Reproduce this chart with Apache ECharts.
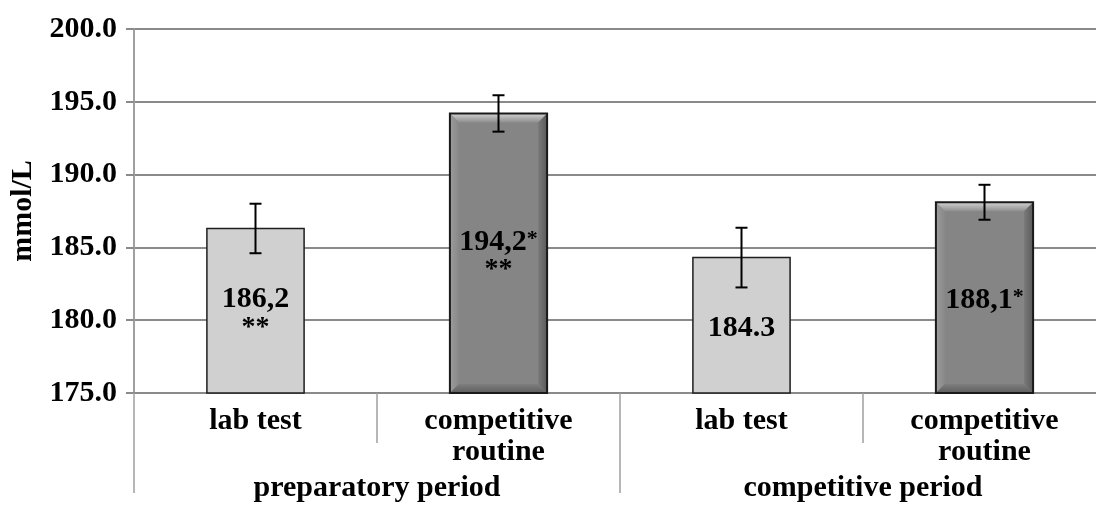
<!DOCTYPE html>
<html>
<head>
<meta charset="utf-8">
<script src="https://cdn.jsdelivr.net/npm/echarts@6/dist/echarts.min.js"></script>
<style>
html,body{margin:0;padding:0;background:#fff;}
#chart{width:1096px;height:505px;}
</style>
</head>
<body>
<div id="chart"></div>
<script>
// ---- data ----
const categories = ['lab test', 'competitive\nroutine', 'lab test', 'competitive\nroutine'];
const periods = ['preparatory period', 'competitive period'];
const means = [186.3, 194.2, 184.3, 188.1];
const errors = [1.7, 1.25, 2.05, 1.2];
const valueLabels = ['186,2\n{s|**}', '194,2{t|*}\n{s|**}', '184.3', '188,1{t|*}'];
const yTicks = { min: 175, max: 200, interval: 5 };
const yName = 'mmol/L';

const FONT = '"Liberation Serif", "Times New Roman", serif';
const GRAY = '#8a8a8a';

const chart = echarts.init(document.getElementById('chart'), null, { renderer: 'canvas' });

function renderBar(params, api) {
  const i = api.value(0);
  const v = api.value(1);
  const top = api.coord([i, v]);
  const base = api.coord([i, yTicks.min]);
  const bw = api.size([1, 0])[0] * 0.4;
  const x = top[0] - bw / 2, y = top[1], w = bw, h = base[1] - top[1];
  const dark = i % 2 === 1;
  const children = [];
  if (!dark) {
    children.push({ type: 'rect', shape: { x, y, width: w, height: h },
      style: { fill: '#d0d0d0', stroke: '#1e1e1e', lineWidth: 1.5 } });
  } else {
    const b = 9;
    children.push({ type: 'rect', shape: { x, y, width: w, height: h },
      style: { fill: '#858585' } });
    children.push({ type: 'polygon', shape: { points: [[x, y], [x + w, y], [x + w - b, y + b], [x + b, y + b]] },
      style: { fill: new echarts.graphic.LinearGradient(0, 0, 0, 1, [
        { offset: 0, color: '#d2d2d2' }, { offset: 1, color: '#8e8e8e' }]) } });
    children.push({ type: 'polygon', shape: { points: [[x, y], [x + b, y + b], [x + b, y + h - b], [x, y + h]] },
      style: { fill: new echarts.graphic.LinearGradient(0, 0, 1, 0, [
        { offset: 0, color: '#9c9c9c' }, { offset: 1, color: '#888888' }]) } });
    children.push({ type: 'polygon', shape: { points: [[x + w, y], [x + w - b, y + b], [x + w - b, y + h - b], [x + w, y + h]] },
      style: { fill: new echarts.graphic.LinearGradient(0, 0, 1, 0, [
        { offset: 0, color: '#7a7a7a' }, { offset: 1, color: '#5a5a5a' }]) } });
    children.push({ type: 'polygon', shape: { points: [[x, y + h], [x + b, y + h - b], [x + w - b, y + h - b], [x + w, y + h]] },
      style: { fill: new echarts.graphic.LinearGradient(0, 0, 0, 1, [
        { offset: 0, color: '#7e7e7e' }, { offset: 1, color: '#5e5e5e' }]) } });
    children.push({ type: 'rect', shape: { x, y, width: w, height: h },
      style: { fill: null, stroke: '#1a1a1a', lineWidth: 2 } });
  }
  children.push({
    type: 'text',
    x: top[0], y: y + h / 2 + 3,
    style: {
      text: valueLabels[i],
      x: 0, y: 0,
      align: 'center', verticalAlign: 'middle',
      fontFamily: FONT, fontWeight: 'bold', fontSize: 30, lineHeight: 28,
      fill: '#000',
      rich: {
        s: { fontFamily: FONT, fontWeight: 'bold', fontSize: 28, lineHeight: 28 },
        t: { fontFamily: FONT, fontWeight: 'bold', fontSize: 22, lineHeight: 28, verticalAlign: 'top' }
      }
    }
  });
  return { type: 'group', children };
}

function renderErr(params, api) {
  const i = api.value(0);
  const m = api.value(1);
  const e = api.value(2);
  const hi = api.coord([i, m + e]);
  const lo = api.coord([i, m - e]);
  const cap = 6;
  const st = { stroke: '#000', lineWidth: 2 };
  return {
    type: 'group',
    children: [
      { type: 'line', shape: { x1: hi[0], y1: hi[1], x2: lo[0], y2: lo[1] }, style: st },
      { type: 'line', shape: { x1: hi[0] - cap, y1: hi[1], x2: hi[0] + cap, y2: hi[1] }, style: st },
      { type: 'line', shape: { x1: lo[0] - cap, y1: lo[1], x2: lo[0] + cap, y2: lo[1] }, style: st }
    ]
  };
}

const option = {
  backgroundColor: '#fff',
  animation: false,
  grid: { left: 134, top: 29, bottom: 112, width: 972, containLabel: false, outerBoundsMode: 'none' },
  xAxis: [
    {
      type: 'category', data: categories, position: 'bottom',
      axisLine: { show: true, lineStyle: { color: GRAY, width: 2 } },
      axisTick: { show: true, length: 50, lineStyle: { color: '#a0a0a0', width: 1.5 } },
      axisLabel: { fontFamily: FONT, fontWeight: 'bold', fontSize: 30, lineHeight: 31, color: '#000', margin: 13, interval: 0 }
    },
    {
      type: 'category', data: periods, position: 'bottom',
      axisLine: { show: false },
      axisTick: { show: true, length: 100, lineStyle: { color: '#a0a0a0', width: 1.5 } },
      axisLabel: { fontFamily: FONT, fontWeight: 'bold', fontSize: 30, lineHeight: 31, color: '#000', margin: 80, interval: 0 }
    }
  ],
  yAxis: {
    type: 'value', min: yTicks.min, max: yTicks.max, interval: yTicks.interval,
    name: yName, nameLocation: 'middle', nameGap: 96, nameRotate: 90,
    nameTextStyle: { fontFamily: FONT, fontWeight: 'bold', fontSize: 30, color: '#000' },
    axisLine: { show: true, lineStyle: { color: '#a0a0a0', width: 2 } },
    axisTick: { show: true, length: 8, lineStyle: { color: GRAY, width: 2 } },
    axisLabel: { fontFamily: FONT, fontWeight: 'bold', fontSize: 30, color: '#000', margin: 17,
      formatter: v => v.toFixed(1) },
    splitLine: { show: true, lineStyle: { color: GRAY, width: 2 } }
  },
  series: [
    {
      type: 'custom', xAxisIndex: 0, renderItem: renderBar,
      data: means.map((m, i) => [i, m]), z: 2
    },
    {
      type: 'custom', xAxisIndex: 0, renderItem: renderErr,
      data: means.map((m, i) => [i, m, errors[i]]), z: 3
    }
  ]
};
chart.setOption(option);
</script>
</body>
</html>
